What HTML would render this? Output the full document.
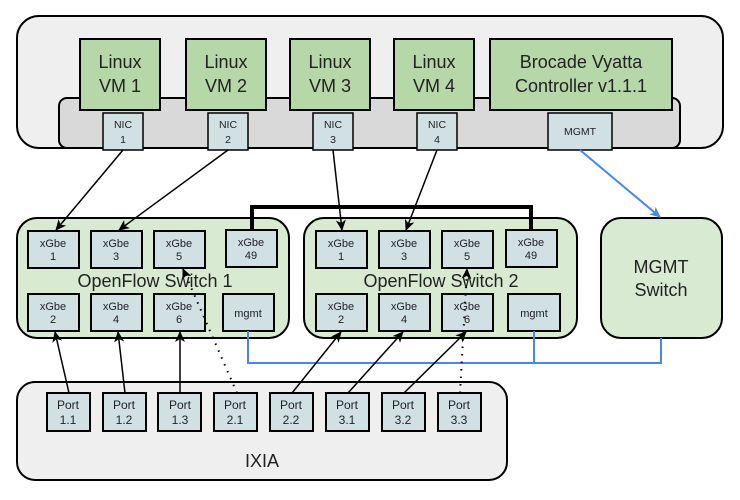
<!DOCTYPE html>
<html><head><meta charset="utf-8"><style>
body{margin:0;background:#fff}
svg text{font-family:"Liberation Sans",sans-serif;fill:#222;text-anchor:middle}
</style></head><body>
<svg width="740" height="495" viewBox="0 0 740 495" xmlns="http://www.w3.org/2000/svg">
<defs>
<marker id="a" markerWidth="12" markerHeight="10" refX="10" refY="5" orient="auto" markerUnits="userSpaceOnUse"><path d="M0,0 L11,5 L0,10 L3,5 z" fill="#000"/></marker>
<marker id="b" markerWidth="12" markerHeight="10" refX="10" refY="5" orient="auto" markerUnits="userSpaceOnUse"><path d="M0,0 L11,5 L0,10 L3,5 z" fill="#4a86e8"/></marker>
</defs>
<g stroke="#000" stroke-width="2">
<rect x="17" y="16" width="706" height="132" rx="22" fill="#efefef"/>
<rect x="59" y="98" width="621" height="50" rx="8" fill="#d9d9d9"/>
<g fill="#b6d7a8">
<rect x="80" y="39" width="80" height="71"/>
<rect x="186" y="39" width="80" height="71"/>
<rect x="290" y="39" width="80" height="71"/>
<rect x="394" y="39" width="80" height="71"/>
<rect x="490" y="39" width="182" height="71"/>
</g>
<g fill="#d0e0e3" stroke-width="1.5">
<rect x="103" y="113" width="40" height="37"/>
<rect x="208" y="113" width="40" height="37"/>
<rect x="313" y="113" width="40" height="37"/>
<rect x="417" y="113" width="40" height="37"/>
<rect x="548" y="113" width="64" height="37"/>
</g>
<g fill="#d9ead3">
<rect x="17" y="218" width="272" height="120" rx="20"/>
<rect x="304" y="218" width="273" height="120" rx="20"/>
<rect x="601" y="218" width="121" height="120" rx="20"/>
</g>
<rect x="17" y="382" width="490" height="98" rx="18" fill="#efefef"/>
<g fill="#d0e0e3">
<rect x="28" y="231" width="51" height="37"/><rect x="91" y="231" width="51" height="37"/><rect x="154" y="231" width="51" height="37"/><rect x="226" y="230" width="51" height="37"/>
<rect x="28" y="294" width="51" height="37"/><rect x="91" y="294" width="51" height="37"/><rect x="154" y="294" width="51" height="37"/><rect x="223" y="294" width="51" height="37"/>
<rect x="316" y="231" width="51" height="37"/><rect x="379" y="231" width="51" height="37"/><rect x="442" y="231" width="51" height="37"/><rect x="506" y="230" width="51" height="37"/>
<rect x="316" y="294" width="51" height="37"/><rect x="379" y="294" width="51" height="37"/><rect x="442" y="294" width="51" height="37"/><rect x="508" y="294" width="52" height="37"/>
<rect x="47" y="393" width="43" height="38"/><rect x="103" y="393" width="43" height="38"/><rect x="158" y="393" width="43" height="38"/><rect x="214" y="393" width="43" height="38"/>
<rect x="270" y="393" width="43" height="38"/><rect x="326" y="393" width="43" height="38"/><rect x="382" y="393" width="43" height="38"/><rect x="438" y="393" width="43" height="38"/>
</g>
</g>
<g stroke="#4a86e8" stroke-width="2" fill="none">
<line x1="580" y1="150" x2="660" y2="217" marker-end="url(#b)"/>
<polyline points="248,331 248,363 661,363 661,338"/>
<line x1="534" y1="331" x2="534" y2="363"/>
</g>
<polyline points="252,230 252,207 531,207 531,230" stroke="#000" stroke-width="4" fill="none"/>
<g stroke="#000" stroke-width="1.5" fill="none" marker-end="url(#a)">
<line x1="123" y1="150" x2="56" y2="230"/>
<line x1="228" y1="150" x2="119" y2="230"/>
<line x1="333" y1="150" x2="342" y2="230"/>
<line x1="437" y1="150" x2="406" y2="230"/>
<line x1="69" y1="393" x2="55" y2="332"/>
<line x1="125" y1="393" x2="118" y2="332"/>
<line x1="180" y1="393" x2="180" y2="332"/>
<line x1="292" y1="393" x2="341" y2="332"/>
<line x1="348" y1="393" x2="403" y2="332"/>
<line x1="404" y1="393" x2="466" y2="332"/>
<line x1="237" y1="393" x2="183" y2="269" stroke-dasharray="1.5,6" stroke-width="2"/>
<line x1="460" y1="393" x2="467" y2="269" stroke-dasharray="1.5,6" stroke-width="2"/>
</g>
<g font-size="18">
<text x="120" y="68">Linux</text><text x="120" y="92">VM 1</text>
<text x="226" y="68">Linux</text><text x="226" y="92">VM 2</text>
<text x="330" y="68">Linux</text><text x="330" y="92">VM 3</text>
<text x="434" y="68">Linux</text><text x="434" y="92">VM 4</text>
<text x="581" y="68">Brocade Vyatta</text><text x="581" y="92">Controller v1.1.1</text>
<text x="661" y="273">MGMT</text><text x="661" y="296">Switch</text>
<text x="155" y="287">OpenFlow Switch 1</text>
<text x="441" y="287">OpenFlow Switch 2</text>
<text x="262" y="467">IXIA</text>
</g>
<g font-size="10.5">
<text x="123" y="128">NIC</text><text x="123" y="143">1</text>
<text x="228" y="128">NIC</text><text x="228" y="143">2</text>
<text x="333" y="128">NIC</text><text x="333" y="143">3</text>
<text x="437" y="128">NIC</text><text x="437" y="143">4</text>
<text x="580" y="135">MGMT</text>
</g>
<g font-size="11">
<text x="53" y="247">xGbe</text><text x="53" y="260">1</text>
<text x="116" y="247">xGbe</text><text x="116" y="260">3</text>
<text x="179" y="247">xGbe</text><text x="179" y="260">5</text>
<text x="251" y="246">xGbe</text><text x="251" y="259">49</text>
<text x="53" y="310">xGbe</text><text x="53" y="323">2</text>
<text x="116" y="310">xGbe</text><text x="116" y="323">4</text>
<text x="179" y="310">xGbe</text><text x="179" y="323">6</text>
<text x="248" y="317">mgmt</text>
<text x="341" y="247">xGbe</text><text x="341" y="260">1</text>
<text x="404" y="247">xGbe</text><text x="404" y="260">3</text>
<text x="467" y="247">xGbe</text><text x="467" y="260">5</text>
<text x="531" y="246">xGbe</text><text x="531" y="259">49</text>
<text x="341" y="310">xGbe</text><text x="341" y="323">2</text>
<text x="404" y="310">xGbe</text><text x="404" y="323">4</text>
<text x="467" y="310">xGbe</text><text x="467" y="323">6</text>
<text x="534" y="317">mgmt</text>
</g>
<g font-size="12">
<text x="68" y="409">Port</text><text x="68" y="424">1.1</text>
<text x="124" y="409">Port</text><text x="124" y="424">1.2</text>
<text x="180" y="409">Port</text><text x="180" y="424">1.3</text>
<text x="235" y="409">Port</text><text x="235" y="424">2.1</text>
<text x="291" y="409">Port</text><text x="291" y="424">2.2</text>
<text x="347" y="409">Port</text><text x="347" y="424">3.1</text>
<text x="403" y="409">Port</text><text x="403" y="424">3.2</text>
<text x="459" y="409">Port</text><text x="459" y="424">3.3</text>
</g>
</svg>
</body></html>
